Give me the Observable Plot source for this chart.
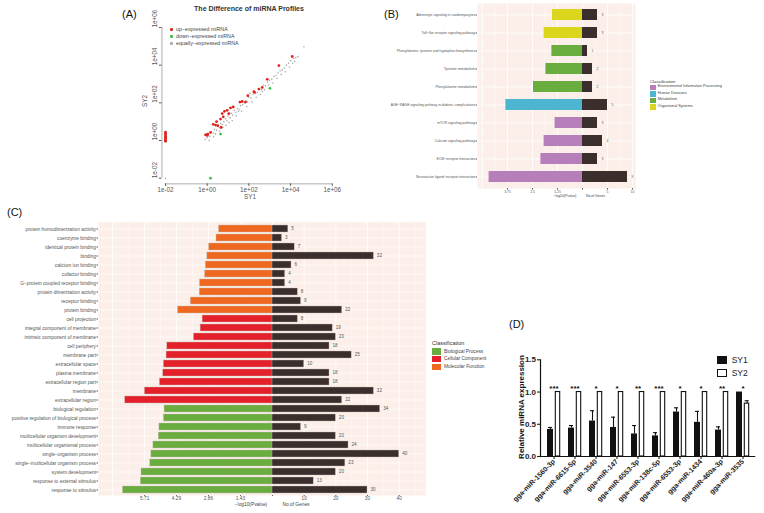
<!DOCTYPE html>
<html><head><meta charset="utf-8">
<script src="https://cdn.jsdelivr.net/npm/d3@7"></script>
<script src="https://cdn.jsdelivr.net/npm/@observablehq/plot@0.6"></script>
<style>
body{margin:0;background:#fff;}
#root{position:relative;width:764px;height:513px;overflow:hidden;background:#fff;font-family:'Liberation Sans',Arial,Helvetica,sans-serif;}
</style></head><body><div id="root"></div>
<script>
// ---------------- Panel A data (log10 expression, SY1 vs SY2) ----------------
const aTicks = [-2, 0, 2, 4, 6];
const aTickLabels = ["1e-02", "1e+00", "1e+02", "1e+04", "1e+06"];
const aUp = [[-2,0.45],[-2,0.38],[-2,0.3],[-2,0.22],[-2,0.15],[-2,0.08],[-2,0.02],[-2,-0.04],
  [-0.08,0.3],[0.0,0.27],[0.03,0.34],[0.16,0.43],[0.29,0.86],[0.4,0.82],[0.45,1.0],[0.51,0.79],[0.67,0.69],
  [0.64,1.14],[0.72,1.43],[0.77,1.26],[0.83,1.55],[0.96,1.6],[1.04,1.43],[1.12,1.73],[1.25,1.78],
  [1.57,2.04],[1.68,2.07],[1.84,2.04],[1.95,2.38],[2.24,2.59],[2.27,2.56],[2.48,2.73],[2.64,2.82],
  [2.88,3.25],[3.44,3.98],[4.08,4.46]];
const aDown = [[0.64,0.34],[3.01,2.77],[0.16,-2.0]];
const aEq = [[-2,-2],[-0.1,0.05],[0.0,0.15],[0.05,0.3],[0.12,0.22],[0.2,0.45],[0.3,0.4],[0.35,0.6],[0.4,0.35],
  [0.45,0.55],[0.5,0.75],[0.58,0.68],[0.65,0.9],[0.72,0.85],[0.75,0.7],[0.8,1.0],[0.88,1.15],[0.95,1.05],
  [1.0,1.3],[1.05,0.95],[1.1,1.2],[1.15,1.45],[1.22,1.35],[1.3,1.6],[1.38,1.5],[1.45,1.7],[1.5,1.55],
  [1.55,1.65],[1.6,1.85],[1.7,1.9],[1.78,2.0],[1.85,2.1],[1.92,2.05],[2.0,2.3],[2.1,2.25],[2.2,2.45],
  [2.3,2.5],[2.4,2.55],[2.5,2.75],[2.6,2.7],[2.65,2.6],[2.7,2.95],[2.8,2.9],[2.9,3.1],[3.0,3.2],[3.1,3.25],
  [3.2,3.4],[3.3,3.45],[3.4,3.6],[3.5,3.7],[3.6,3.75],[3.7,3.85],[3.8,4.0],[3.9,4.1],[4.0,4.25],
  [4.15,4.35],[4.25,4.4],[4.64,4.98],
  [0.3,0.2],[0.6,0.5],[0.9,0.8],[1.2,1.05],[1.4,1.3],[1.65,1.55],[1.9,1.8],[2.15,2.05],[2.35,2.3],
  [2.55,2.45],[2.75,2.7],[2.95,2.95],[3.15,3.05],[3.35,3.3],[3.55,3.5],[3.75,3.65],[3.95,3.9],[4.2,4.2],
  [4.35,4.45],[4.1,4.1],[0.1,0.0],[-0.05,0.35],[1.0,1.4],[2.05,2.5]];

// ---------------- Panel B data (KEGG) ----------------
const bCats = ["Adrenergic signaling in cardiomyocytes","Toll\u2212like receptor signaling pathway",
  "Phenylalanine, tyrosine and tryptophan biosynthesis","Tyrosine metabolism","Phenylalanine metabolism",
  "AGE\u2212RAGE signaling pathway in diabetic complications","mTOR signaling pathway","Calcium signaling pathway",
  "ECM\u2212receptor interaction","Neuroactive ligand\u2212receptor interaction"];
const bPval = [1.5, 1.92, 1.53, 1.83, 2.45, 3.83, 1.37, 1.92, 2.08, 4.67];
const bGenes = [3, 3, 1, 2, 2, 5, 3, 4, 3, 9];
const bClass = ["Organismal Systems","Organismal Systems","Metabolism","Metabolism","Metabolism","Human Diseases",
  "Environmental Information Processing","Environmental Information Processing","Environmental Information Processing","Environmental Information Processing"];
const bClassNames = ["Environmental Information Processing","Human Diseases","Metabolism","Organismal Systems"];
const bColors = ["#b77fba","#4db5cf","#6aad3f","#dcd51e"];
const bPTicks = [0, 1.25, 2.5, 3.75];
const bGTicks = [0, 5, 10];

// ---------------- Panel C data (GO) ----------------
const cCats = ["protein homodimerization activity","coenzyme binding","identical protein binding","binding",
  "calcium ion binding","cofactor binding","G\u2212protein coupled receptor binding","protein dimerization activity",
  "receptor binding","protein binding",
  "cell projection","integral component of membrane","intrinsic component of membrane","cell periphery",
  "membrane part","extracellular space","plasma membrane","extracellular region part","membrane","extracellular region",
  "biological regulation","positive regulation of biological process","immune response",
  "multicellular organism development","multicellular organismal process","single\u2212organism process",
  "single\u2212multicellular organism process","system development","response to external stimulus","response to stimulus"];
const cPval = [2.39,2.50,2.83,2.91,2.98,3.01,3.24,3.25,3.65,4.22,
  3.12,3.21,3.51,4.70,4.73,4.85,4.88,5.03,5.70,6.58,
  4.82,4.85,5.05,5.08,5.32,5.41,5.46,5.85,5.88,6.68];
const cGenes = [5,3,7,32,6,4,4,8,9,22, 8,19,20,18,25,10,18,18,32,22, 34,20,9,20,24,40,23,20,13,30];
const cClass = [...Array(10).fill("Molecular Function"), ...Array(10).fill("Cellular Component"), ...Array(10).fill("Biological Process")];
const cClassNames = ["Biological Process","Cellular Component","Molecular Function"];
const cColors = ["#6aad3f","#e4202a","#ef6820"];
const cPTicks = [0, 1.43, 2.86, 4.29, 5.71];
const cGTicks = [0, 10, 20, 30, 40];

// ---------------- Panel D data (qPCR) ----------------
const dLabels = ["gga-miR-1560-3p","gga-miR-6615-5p","gga-miR-3540","gga-miR-147","gga-miR-6553-3p",
  "gga-miR-138c-5p","gga-miR-6553-3p","gga-miR-1434","gga-miR-460a-3p","gga-miR-3535"];
const dSY1 = [0.42, 0.44, 0.55, 0.45, 0.35, 0.32, 0.69, 0.53, 0.41, 1.0];
const dSY1Err = [0.03, 0.04, 0.16, 0.16, 0.13, 0.05, 0.065, 0.17, 0.05, 0];
const dSY2 = [1, 1, 1, 1, 1, 1, 1, 1, 1, 0.82];
const dSY2Err = [0, 0, 0, 0, 0, 0, 0, 0, 0, 0.045];
const dSig = ["***","***","*","*","**","***","*","*","**","*"];
const dTicks = [0, 0.5, 1.0, 1.5];

// ---------------- helpers ----------------
const root = document.getElementById("root");
const FONT = "'Liberation Sans', Arial, Helvetica, sans-serif";
const BG = "#fcefe9";
const DARK = "#3a2f2d";
function put(node, left, top) {
  node.style.position = "absolute"; node.style.left = left + "px"; node.style.top = top + "px";
  root.appendChild(node);
}
function txt(s, x, y, css, anchor) {
  const d = document.createElement("div");
  d.textContent = s;
  const tr = anchor === "c" ? "translate(-50%,-50%)" : anchor === "r" ? "translate(-100%,-50%)" : "translate(0,-50%)";
  d.style.cssText = `position:absolute;left:${x}px;top:${y}px;white-space:nowrap;line-height:1;transform:${tr};font-family:${FONT};` + css;
  root.appendChild(d);
  return d;
}
function swatch(x, y, w, h, fill, border) {
  const d = document.createElement("div");
  d.style.cssText = `position:absolute;left:${x}px;top:${y}px;width:${w}px;height:${h}px;background:${fill};box-sizing:border-box;${border||""}`;
  root.appendChild(d);
}

// ---------------- Panel A ----------------
const fmtA = d => aTickLabels[aTicks.indexOf(d)];
const aPlot = Plot.plot({
  width: 225, height: 205, marginLeft: 41.46, marginRight: 9.7, marginTop: 23.2, marginBottom: 21.65,
  x: {domain: [-2.17, 6.17]}, y: {domain: [-2.3, 6.2]},
  style: {background: "transparent", fontFamily: FONT, fontSize: "6.3px", color: "#555"},
  marks: [
    Plot.ruleY([-2.3], {x1: -2, x2: 6, stroke: "#777", strokeWidth: 0.6}),
    Plot.ruleX([-2.17], {y1: -2, y2: 6, stroke: "#777", strokeWidth: 0.6}),
    Plot.axisX({ticks: aTicks, tickFormat: fmtA, tickSize: 2.5, tickPadding: 1, label: null}),
    Plot.axisY({ticks: aTicks, tickFormat: () => "", tickSize: 2.5, label: null}),
    Plot.text(aTicks, {y: d => d, text: fmtA, frameAnchor: "left", rotate: -90, dx: -6.5, fill: "#555"}),
    Plot.dot(aEq, {x: d => d[0], y: d => d[1], r: 0.8, fill: "#aaaaaa", stroke: null}),
    Plot.dot(aUp, {x: d => d[0], y: d => d[1], r: 1.4, fill: "#e0241c", stroke: null}),
    Plot.dot(aDown, {x: d => d[0], y: d => d[1], r: 1.4, fill: "#3fbf3f", stroke: null})
  ]
});
put(aPlot, 120, 0);
txt("The Difference of miRNA Profiles", 249, 8, "font-size:7px;font-weight:bold;color:#333;", "c");
txt("SY1", 250, 196.5, "font-size:6.3px;color:#555;", "c");
txt("SY2", 145, 101, "font-size:6.3px;color:#555;transform:translate(-50%,-50%) rotate(-90deg);", "c");
[["up\u2212expressed miRNA","#e0241c"],["down\u2212expressed miRNA","#3fbf3f"],["equally\u2212expressed miRNA","#aaaaaa"]]
  .forEach(([s, c], i) => {
    const y = 29.5 + i * 7;
    swatch(170, y - 1.3, 2.6, 2.6, c, "border-radius:50%;");
    txt(s, 176, y, "font-size:5.3px;color:#444;");
  });
txt("(A)", 122, 14, "font-size:11px;color:#111;");

// ---------------- Panel B ----------------
const bRows = bCats.map((c, i) => ({cat: c, p: bPval[i], genes: bGenes[i], cls: bClass[i]}));
const midTicks = t => t.slice(0, -1).map((v, i) => (v + t[i + 1]) / 2);
const bLeft = Plot.plot({
  width: 202, height: 200, marginLeft: 97, marginRight: 0, marginTop: 3, marginBottom: 12,
  x: {domain: [5.25, 0]},
  y: {domain: bCats, paddingInner: 0.38, paddingOuter: 0.1},
  color: {domain: bClassNames, range: bColors},
  style: {background: "transparent", fontFamily: FONT, fontSize: "3.4px", color: "#555"},
  marks: [
    Plot.frame({fill: BG, stroke: "none"}),
    Plot.gridX({ticks: midTicks([0, 1.25, 2.5, 3.75, 5]).concat([5.125]), stroke: "white", strokeOpacity: 1, strokeWidth: 0.4}),
    Plot.gridX({ticks: [0, 1.25, 2.5, 3.75, 5], stroke: "white", strokeOpacity: 1, strokeWidth: 0.8}),
    Plot.gridY({stroke: "white", strokeOpacity: 1, strokeWidth: 0.8}),
    Plot.barX(bRows, {x: "p", y: "cat", fill: "cls"}),
    Plot.axisY({tickSize: 1.5, tickPadding: 1, label: null}),
    Plot.axisX({ticks: bPTicks, tickFormat: d => d === 0 ? "" : String(d), tickSize: 1.5, tickPadding: 0.5, label: null})
  ]
});
put(bLeft, 380, 0);
const bRight = Plot.plot({
  width: 70, height: 200, marginLeft: 0, marginRight: 17, marginTop: 3, marginBottom: 12,
  x: {domain: [0, 10.6]},
  y: {domain: bCats, paddingInner: 0.38, paddingOuter: 0.1, axis: null},
  style: {background: "transparent", fontFamily: FONT, fontSize: "3.4px", color: "#555"},
  marks: [
    Plot.frame({fill: BG, stroke: "none"}),
    Plot.gridX({ticks: [2.5, 7.5], stroke: "white", strokeOpacity: 1, strokeWidth: 0.4}),
    Plot.gridX({ticks: [0, 5, 10], stroke: "white", strokeOpacity: 1, strokeWidth: 0.8}),
    Plot.gridY({stroke: "white", strokeOpacity: 1, strokeWidth: 0.8}),
    Plot.barX(bRows, {x: "genes", y: "cat", fill: DARK}),
    Plot.text(bRows, {x: "genes", y: "cat", text: d => String(d.genes), dx: 4, textAnchor: "start", fill: "#555"}),
    Plot.axisX({ticks: bGTicks, tickFormat: d => d === 0 ? "" : String(d), tickSize: 1.5, tickPadding: 0.5, label: null})
  ]
});
put(bRight, 582, 0);
txt("\u2212log10(Pvalue)", 565, 196.5, "font-size:3.4px;color:#444;", "c");
txt("No.of Genes", 595.5, 196.5, "font-size:3.4px;color:#444;", "c");
txt("Classification", 650, 81.5, "font-size:4.3px;color:#333;");
bClassNames.forEach((s, i) => {
  const y = 87.3 + i * 6.5;
  swatch(650, y - 2.8, 6, 5.6, bColors[i]);
  txt(s, 657.7, y, "font-size:3.8px;color:#444;");
});
txt("(B)", 384, 14, "font-size:11px;color:#111;");

// ---------------- Panel C ----------------
const cRows = cCats.map((c, i) => ({cat: c, p: cPval[i], genes: cGenes[i], cls: cClass[i]}));
const cMajL = [0, 1.43, 2.86, 4.29, 5.71, 7.14];
const cLeft = Plot.plot({
  width: 272, height: 298, marginLeft: 98, marginRight: 0, marginTop: 6.7, marginBottom: 18,
  x: {domain: [7.77, 0]},
  y: {domain: cCats, paddingInner: 0.27, paddingOuter: 0},
  color: {domain: cClassNames, range: cColors},
  style: {background: "transparent", fontFamily: FONT, fontSize: "4.85px", color: "#555"},
  marks: [
    Plot.frame({fill: BG, stroke: "none"}),
    Plot.gridX({ticks: midTicks(cMajL), stroke: "white", strokeOpacity: 1, strokeWidth: 0.4}),
    Plot.gridX({ticks: cMajL, stroke: "white", strokeOpacity: 1, strokeWidth: 0.8}),
    Plot.gridY({stroke: "white", strokeOpacity: 1, strokeWidth: 0.6}),
    Plot.barX(cRows, {x: "p", y: "cat", fill: "cls", stroke: "#c9bdb8", strokeWidth: 0.4}),
    Plot.axisY({tickSize: 1.5, tickPadding: 1, label: null}),
    Plot.axisX({ticks: cPTicks, tickFormat: d => d === 0 ? "" : d.toFixed(2), tickSize: 1, tickPadding: 0.5, label: null, fontSize: 4.8})
  ]
});
put(cLeft, 0, 215);
const cRight = Plot.plot({
  width: 160, height: 298, marginLeft: 0, marginRight: 6.7, marginTop: 6.7, marginBottom: 18,
  x: {domain: [0, 48.4]},
  y: {domain: cCats, paddingInner: 0.27, paddingOuter: 0, axis: null},
  style: {background: "transparent", fontFamily: FONT, fontSize: "4.6px", color: "#555"},
  marks: [
    Plot.frame({fill: BG, stroke: "none"}),
    Plot.gridX({ticks: [5, 15, 25, 35, 45], stroke: "white", strokeOpacity: 1, strokeWidth: 0.4}),
    Plot.gridX({ticks: [0, 10, 20, 30, 40], stroke: "white", strokeOpacity: 1, strokeWidth: 0.8}),
    Plot.gridY({stroke: "white", strokeOpacity: 1, strokeWidth: 0.6}),
    Plot.barX(cRows, {x: "genes", y: "cat", fill: DARK, stroke: "#c9bdb8", strokeWidth: 0.4}),
    Plot.text(cRows, {x: "genes", y: "cat", text: d => String(d.genes), dx: 3, textAnchor: "start", fill: "#555"}),
    Plot.axisX({ticks: cGTicks, tickFormat: d => d === 0 ? "" : String(d), tickSize: 1, tickPadding: 0.5, label: null, fontSize: 4.8})
  ]
});
put(cRight, 272, 215);
txt("\u2212log10(Pvalue)", 251, 504.5, "font-size:4.8px;color:#444;", "c");
txt("No.of Genes", 296, 504.5, "font-size:4.8px;color:#444;", "c");
txt("Classification", 432, 343.5, "font-size:5.5px;color:#333;");
cClassNames.forEach((s, i) => {
  const y = 351.5 + i * 7.8;
  swatch(432, y - 3.2, 9, 6.4, cColors[i]);
  txt(s, 444, y, "font-size:4.8px;color:#444;");
});
txt("(C)", 7, 212, "font-size:11px;color:#111;");

// ---------------- Panel D ----------------
const dRows = dLabels.map((g, i) => ({i, g, sy1: dSY1[i], e1: dSY1Err[i], sy2: dSY2[i], e2: dSY2Err[i], sig: dSig[i]}));
const e1Rows = dRows.filter(d => d.e1 > 0), e2Rows = dRows.filter(d => d.e2 > 0);
const dPlot = Plot.plot({
  width: 274, height: 173, marginLeft: 50, marginRight: 8.75, marginTop: 19.3, marginBottom: 57,
  x: {domain: dRows.map(d => d.i), padding: 0},
  y: {domain: [0, 1.5]},
  style: {background: "transparent", fontFamily: FONT, fontSize: "7px", fontWeight: "bold", color: "#222"},
  marks: [
    Plot.barY(dRows, {x: "i", y: "sy1", fill: "#111", insetLeft: 4, insetRight: 11}),
    Plot.barY(dRows, {x: "i", y: "sy2", fill: "white", stroke: "#111", strokeWidth: 1.1, insetLeft: 12.3, insetRight: 4.3}),
    Plot.ruleX(e1Rows, {x: "i", y1: "sy1", y2: d => d.sy1 + d.e1, dx: -3.5, stroke: "#111", strokeWidth: 1.1}),
    Plot.tickY(e1Rows, {x: "i", y: d => d.sy1 + d.e1, insetLeft: 5, insetRight: 12, stroke: "#111", strokeWidth: 1.1}),
    Plot.ruleX(e2Rows, {x: "i", y1: "sy2", y2: d => d.sy2 + d.e2, dx: 4.1, stroke: "#111", strokeWidth: 1.1}),
    Plot.tickY(e2Rows, {x: "i", y: d => d.sy2 + d.e2, insetLeft: 12.6, insetRight: 4.3, stroke: "#111", strokeWidth: 1.1}),
    Plot.text(dRows, {x: "i", y: d => Math.max(d.sy1, d.sy2), text: "sig", dy: -4, fontSize: 8, fill: "#111"}),
    Plot.ruleY([0], {stroke: "#111", strokeWidth: 1.2}),
    Plot.frame({anchor: "left", stroke: "#111", strokeWidth: 1.2}),
    Plot.axisY({ticks: dTicks, tickFormat: d => d.toFixed(1), tickSize: 3, tickPadding: 1.5, label: null, fontSize: 8, strokeWidth: 1.1}),
    Plot.axisX({tickFormat: i => dLabels[i], tickRotate: -45, tickSize: 3, tickPadding: 1, label: null, fontSize: 7, strokeWidth: 1.1})
  ]
});
put(dPlot, 490, 340);
txt("Relative miRNA expression", 522, 407, "font-size:8px;font-weight:bold;color:#111;transform:translate(-50%,-50%) rotate(-90deg);", "c");
swatch(717, 356, 10, 8, "#111");
txt("SY1", 731.7, 360, "font-size:8.5px;color:#222;");
swatch(717, 369, 10, 8, "#fff", "border:1.1px solid #111;");
txt("SY2", 731.7, 373, "font-size:8.5px;color:#222;");
txt("(D)", 509, 324, "font-size:11px;color:#111;");
</script></body></html>
